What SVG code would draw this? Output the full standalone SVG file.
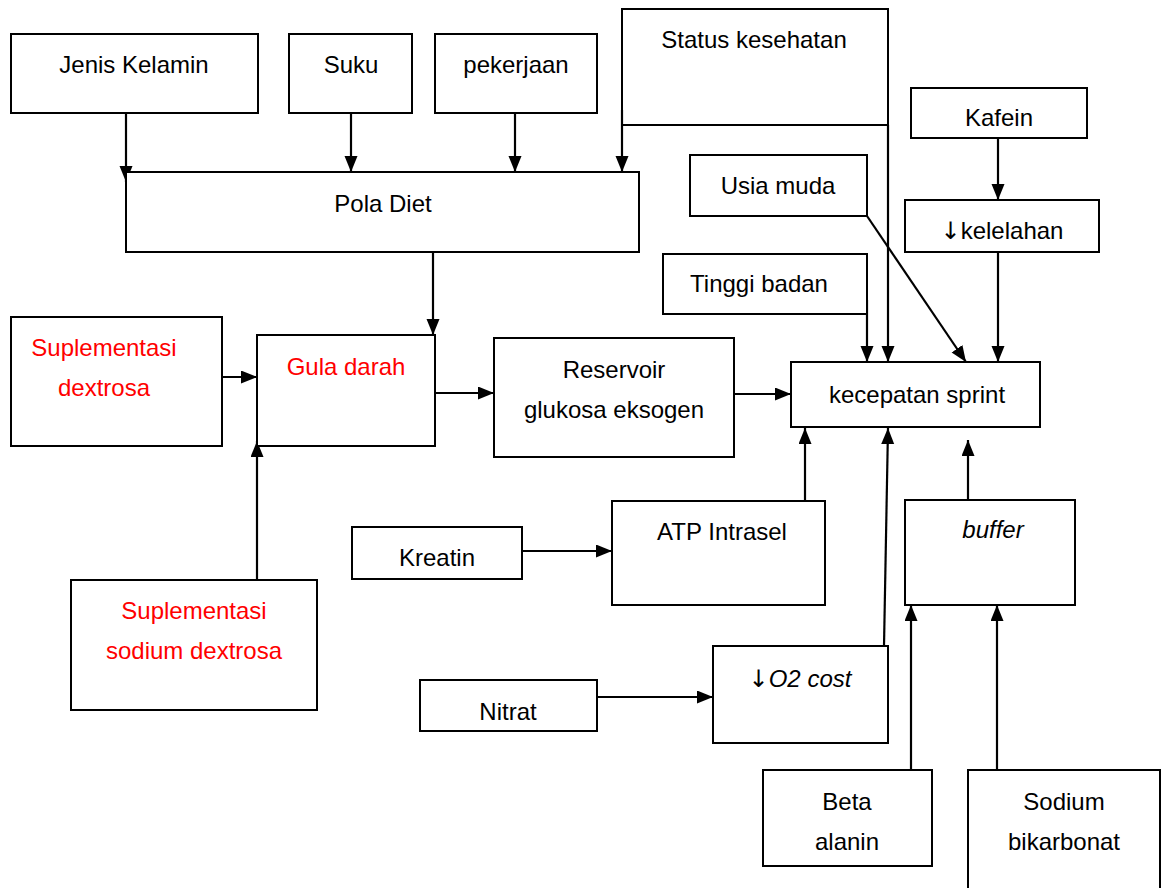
<svg xmlns="http://www.w3.org/2000/svg" width="1163" height="888" viewBox="0 0 1163 888">
<style>
.box{fill:#fff;stroke:#000;stroke-width:2}
.t{font-family:"Liberation Sans",Arial,sans-serif;font-size:24px;fill:#000;text-anchor:middle}
.r{fill:#ff0000}
.i{font-style:italic}
.ar{font-family:"DejaVu Sans",sans-serif;font-style:normal;fill:#000}
.c{fill:none;stroke:#000;stroke-width:2.2}
</style>
<defs>
<marker id="ah" markerUnits="userSpaceOnUse" markerWidth="18" markerHeight="14" refX="16" refY="6.5" orient="auto">
<path d="M0,0 L16,6.5 L0,13 z" fill="#000"/>
</marker>
</defs>
<rect width="1163" height="888" fill="#fff"/>
<g id="connectors">
<line class="c" x1="126" y1="113" x2="126" y2="182" marker-end="url(#ah)"/>
<line class="c" x1="351" y1="113" x2="351" y2="172" marker-end="url(#ah)"/>
<line class="c" x1="515" y1="113" x2="515" y2="172" marker-end="url(#ah)"/>
<line class="c" x1="622" y1="110" x2="622" y2="172" marker-end="url(#ah)"/>
<line class="c" x1="433" y1="252" x2="433" y2="335" marker-end="url(#ah)"/>
<line class="c" x1="888" y1="125" x2="888" y2="362" marker-end="url(#ah)"/>
<line class="c" x1="867" y1="300" x2="867" y2="362" marker-end="url(#ah)"/>
<line class="c" x1="867" y1="216" x2="966" y2="362" marker-end="url(#ah)"/>
<line class="c" x1="998" y1="132" x2="998" y2="200" marker-end="url(#ah)"/>
<line class="c" x1="998" y1="252" x2="998" y2="362" marker-end="url(#ah)"/>
<line class="c" x1="222" y1="377" x2="257" y2="377" marker-end="url(#ah)"/>
<line class="c" x1="435" y1="393" x2="494" y2="393" marker-end="url(#ah)"/>
<line class="c" x1="734" y1="394" x2="791" y2="394" marker-end="url(#ah)"/>
<line class="c" x1="257" y1="580" x2="257" y2="441" marker-end="url(#ah)"/>
<line class="c" x1="517" y1="551" x2="612" y2="551" marker-end="url(#ah)"/>
<line class="c" x1="805" y1="501" x2="805" y2="428" marker-end="url(#ah)"/>
<line class="c" x1="597" y1="697" x2="713" y2="697" marker-end="url(#ah)"/>
<line class="c" x1="884" y1="646" x2="888" y2="428" marker-end="url(#ah)"/>
<line class="c" x1="968" y1="500" x2="968" y2="440" marker-end="url(#ah)"/>
<line class="c" x1="911" y1="770" x2="911" y2="605" marker-end="url(#ah)"/>
<line class="c" x1="997" y1="770" x2="997" y2="605" marker-end="url(#ah)"/>
</g>
<g id="jenis-kelamin"><rect class="box" x="11" y="34" width="247" height="79"/><text class="t" x="134" y="73">Jenis Kelamin</text></g>
<g id="suku"><rect class="box" x="289" y="34" width="123" height="79"/><text class="t" x="351" y="73">Suku</text></g>
<g id="pekerjaan"><rect class="box" x="435" y="34" width="162" height="79"/><text class="t" x="516" y="73">pekerjaan</text></g>
<g id="status-kesehatan"><rect class="box" x="622" y="9" width="266" height="116" style="fill:none"/><text class="t" x="754" y="48">Status kesehatan</text></g>
<g id="pola-diet"><rect class="box" x="126" y="172" width="513" height="80"/><text class="t" x="383" y="212">Pola Diet</text></g>
<g id="kafein"><rect class="box" x="911" y="88" width="176" height="50"/><text class="t" x="999" y="126">Kafein</text></g>
<g id="usia-muda"><rect class="box" x="690" y="155" width="177" height="61"/><text class="t" x="778" y="194">Usia muda</text></g>
<g id="kelelahan"><rect class="box" x="905" y="200" width="194" height="52"/><text class="t" x="1002" y="239"><tspan class="ar">↓</tspan>kelelahan</text></g>
<g id="tinggi-badan"><rect class="box" x="663" y="254" width="204" height="60"/><text class="t" x="759" y="292">Tinggi badan</text></g>
<g id="kecepatan-sprint"><rect class="box" x="791" y="362" width="249" height="65"/><text class="t" x="917" y="403">kecepatan sprint</text></g>
<g id="suplementasi-dextrosa"><rect class="box" x="11" y="317" width="211" height="129"/><text class="t r" x="104" y="356">Suplementasi</text><text class="t r" x="104" y="396">dextrosa</text></g>
<g id="gula-darah"><rect class="box" x="257" y="335" width="178" height="111"/><text class="t r" x="346" y="375">Gula darah</text></g>
<g id="reservoir"><rect class="box" x="494" y="338" width="240" height="119"/><text class="t" x="614" y="378">Reservoir</text><text class="t" x="614" y="418">glukosa eksogen</text></g>
<g id="suplementasi-sodium-dextrosa"><rect class="box" x="71" y="580" width="246" height="130"/><text class="t r" x="194" y="619">Suplementasi</text><text class="t r" x="194" y="659">sodium dextrosa</text></g>
<g id="kreatin"><rect class="box" x="352" y="527" width="170" height="52"/><text class="t" x="437" y="566">Kreatin</text></g>
<g id="atp-intrasel"><rect class="box" x="612" y="501" width="213" height="104"/><text class="t" x="722" y="540">ATP Intrasel</text></g>
<g id="buffer"><rect class="box" x="905" y="500" width="170" height="105"/><text class="t i" x="993" y="538">buffer</text></g>
<g id="nitrat"><rect class="box" x="420" y="680" width="177" height="51"/><text class="t" x="508" y="720">Nitrat</text></g>
<g id="o2-cost"><rect class="box" x="713" y="646" width="175" height="97"/><text class="t" x="800" y="687"><tspan class="ar">↓</tspan><tspan class="i">O2 cost</tspan></text></g>
<g id="beta-alanin"><rect class="box" x="763" y="770" width="169" height="96"/><text class="t" x="847" y="810">Beta</text><text class="t" x="847" y="850">alanin</text></g>
<g id="sodium-bikarbonat"><rect class="box" x="968" y="770" width="192" height="130"/><text class="t" x="1064" y="810">Sodium</text><text class="t" x="1064" y="850">bikarbonat</text></g>
</svg>
